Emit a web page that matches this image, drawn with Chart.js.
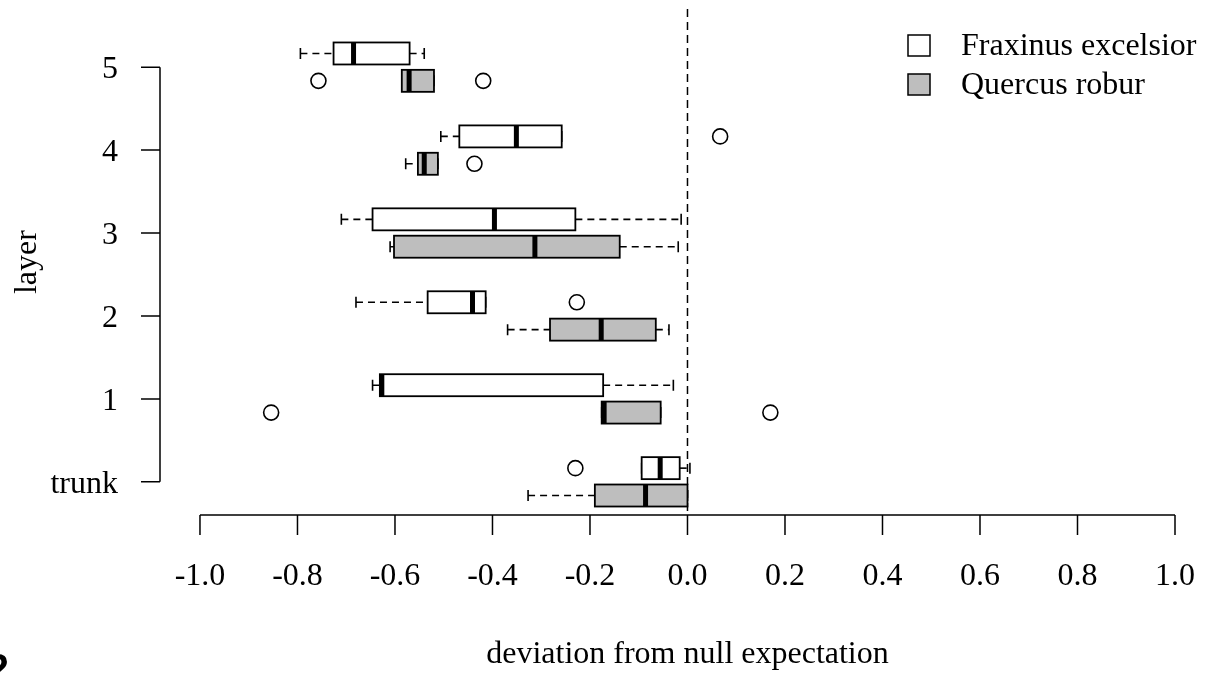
<!DOCTYPE html>
<html>
<head>
<meta charset="utf-8">
<script src="https://cdn.jsdelivr.net/npm/chart.js@4.4.1/dist/chart.umd.min.js"></script>
<style>
  html, body { margin: 0; padding: 0; background: #fff; }
  #wrap { width: 1205px; height: 674px; }
</style>
</head>
<body>
<div id="wrap"><canvas id="myChart" width="1205" height="674"></canvas></div>
<script>
// layer labels, bottom to top (trunk sits at 0)
const layers = ['trunk', '1', '2', '3', '4', '5'];
const xTicks = [-1.0, -0.8, -0.6, -0.4, -0.2, 0.0, 0.2, 0.4, 0.6, 0.8, 1.0];
const seriesNames = ['Fraxinus excelsior', 'Quercus robur'];

// Fraxinus excelsior (white boxes)
const fraxLow = [-0.094, -0.646, -0.680, -0.710, -0.506, -0.794];
const fraxQ1 = [-0.094, -0.631, -0.533, -0.646, -0.468, -0.726];
const fraxMed = [-0.056, -0.627, -0.441, -0.396, -0.351, -0.685];
const fraxQ3 = [-0.016, -0.173, -0.414, -0.230, -0.258, -0.570];
const fraxHigh = [0.005, -0.029, -0.414, -0.013, -0.258, -0.540];
const fraxOut = [[-0.230], [], [-0.227], [], [0.067], []];

// Quercus robur (grey boxes)
const quLow = [-0.327, -0.176, -0.369, -0.610, -0.578, -0.586];
const quQ1 = [-0.190, -0.176, -0.282, -0.602, -0.553, -0.586];
const quMed = [-0.086, -0.171, -0.177, -0.313, -0.540, -0.571];
const quQ3 = [0.000, -0.055, -0.065, -0.139, -0.512, -0.520];
const quHigh = [0.000, -0.055, -0.038, -0.019, -0.512, -0.520];
const quOut = [[], [-0.854, 0.170], [], [], [-0.437], [-0.757, -0.419]];

const FONT = '"Liberation Serif", "Times New Roman", serif';
const SHIFT = 0.165; // each species sits a bit above / below its layer
const FILLS = ['#ffffff', '#bebebe'];

const outlierPoints = (out, sign) => {
  const pts = [];
  out.forEach((vals, i) => {
    vals.forEach((v) => pts.push({ x: v, y: i + sign * SHIFT }));
  });
  return pts;
};

function drawBox(ctx, xs, y, lo, q1, med, q3, hi, fill) {
  const h = 11;
  const a = xs.getPixelForValue(q1);
  const b = xs.getPixelForValue(q3);
  const m = xs.getPixelForValue(med);
  const l = xs.getPixelForValue(lo);
  const r = xs.getPixelForValue(hi);
  ctx.save();
  ctx.strokeStyle = '#000';
  ctx.lineWidth = 1.6;
  ctx.setLineDash([7, 5]);
  ctx.beginPath();
  if (l < a) { ctx.moveTo(l, y); ctx.lineTo(a, y); }
  if (r > b) { ctx.moveTo(b, y); ctx.lineTo(r, y); }
  ctx.stroke();
  ctx.setLineDash([]);
  ctx.beginPath();
  ctx.moveTo(l, y - h / 2); ctx.lineTo(l, y + h / 2);
  ctx.moveTo(r, y - h / 2); ctx.lineTo(r, y + h / 2);
  ctx.stroke();
  ctx.fillStyle = fill;
  ctx.lineWidth = 1.8;
  ctx.fillRect(a, y - h, b - a, 2 * h);
  ctx.strokeRect(a, y - h, b - a, 2 * h);
  ctx.lineWidth = 5;
  ctx.beginPath();
  ctx.moveTo(m, y - h); ctx.lineTo(m, y + h);
  ctx.stroke();
  ctx.restore();
}

const boxPlugin = {
  id: 'boxes',
  beforeDatasetsDraw(chart) {
    const { ctx, chartArea, scales: { x, y } } = chart;
    // null expectation line
    ctx.save();
    ctx.strokeStyle = '#000';
    ctx.lineWidth = 1.5;
    ctx.setLineDash([8, 5]);
    ctx.beginPath();
    ctx.moveTo(x.getPixelForValue(0), chartArea.top);
    ctx.lineTo(x.getPixelForValue(0), chartArea.bottom);
    ctx.stroke();
    ctx.restore();

    layers.forEach((lab, i) => {
      drawBox(ctx, x, y.getPixelForValue(i + SHIFT), fraxLow[i], fraxQ1[i], fraxMed[i], fraxQ3[i], fraxHigh[i], FILLS[0]);
      drawBox(ctx, x, y.getPixelForValue(i - SHIFT), quLow[i], quQ1[i], quMed[i], quQ3[i], quHigh[i], FILLS[1]);
    });
  },
  afterDraw(chart) {
    const { ctx, chartArea, scales: { x, y } } = chart;
    ctx.save();
    ctx.strokeStyle = '#000';
    ctx.fillStyle = '#000';
    ctx.lineWidth = 1.5;
    ctx.font = `32px ${FONT}`;

    // y axis
    const ax = chartArea.left;
    ctx.beginPath();
    ctx.moveTo(ax, y.getPixelForValue(0));
    ctx.lineTo(ax, y.getPixelForValue(layers.length - 1));
    layers.forEach((lab, i) => {
      ctx.moveTo(ax, y.getPixelForValue(i));
      ctx.lineTo(ax - 19, y.getPixelForValue(i));
    });
    ctx.stroke();
    ctx.textAlign = 'right';
    ctx.textBaseline = 'alphabetic';
    layers.forEach((lab, i) => {
      ctx.fillText(lab, ax - 42, y.getPixelForValue(i) + 11);
    });

    // x axis
    const ay = chartArea.bottom;
    ctx.beginPath();
    ctx.moveTo(x.getPixelForValue(xTicks[0]), ay);
    ctx.lineTo(x.getPixelForValue(xTicks[xTicks.length - 1]), ay);
    xTicks.forEach((t) => {
      ctx.moveTo(x.getPixelForValue(t), ay);
      ctx.lineTo(x.getPixelForValue(t), ay + 20);
    });
    ctx.stroke();
    ctx.textAlign = 'center';
    xTicks.forEach((t) => {
      ctx.fillText(t.toFixed(1), x.getPixelForValue(t), ay + 70);
    });

    // axis titles
    ctx.fillText('deviation from null expectation', x.getPixelForValue(0), 663);
    ctx.save();
    ctx.translate(36, (chartArea.top + chartArea.bottom) / 2);
    ctx.rotate(-Math.PI / 2);
    ctx.fillText('layer', 0, 0);
    ctx.restore();

    // legend
    ctx.textAlign = 'left';
    seriesNames.forEach((name, i) => {
      const cy = 45 + i * 39;
      ctx.fillStyle = FILLS[i];
      ctx.fillRect(908, cy - 10, 22, 21);
      ctx.strokeRect(908, cy - 10, 22, 21);
      ctx.fillStyle = '#000';
      ctx.fillText(name, 961, cy + 10);
    });

    // panel number, cut at the edge
    ctx.font = `bold 40px "Liberation Sans", sans-serif`;
    ctx.textAlign = 'right';
    ctx.fillText('2', 9, 682);
    ctx.restore();
  },
};

const ctx = document.getElementById('myChart').getContext('2d');
const myChart = new Chart(ctx, {
  type: 'scatter',
  data: {
    datasets: [
      {
        label: seriesNames[0],
        data: outlierPoints(fraxOut, 1),
        pointRadius: 7.5,
        pointBorderWidth: 1.6,
        borderColor: '#000',
        backgroundColor: 'rgba(0,0,0,0)',
      },
      {
        label: seriesNames[1],
        data: outlierPoints(quOut, -1),
        pointRadius: 7.5,
        pointBorderWidth: 1.6,
        borderColor: '#000',
        backgroundColor: 'rgba(0,0,0,0)',
      },
    ],
  },
  options: {
    responsive: false,
    animation: false,
    layout: {
      padding: { left: 160, right: 30, top: 8, bottom: 159 },
    },
    plugins: {
      legend: { display: false },
      title: { display: false },
      tooltip: { enabled: false },
    },
    scales: {
      x: { type: 'linear', min: -1.082, max: 1.0, display: false },
      y: { type: 'linear', min: -0.4, max: 5.7, display: false },
    },
  },
  plugins: [boxPlugin],
});
</script>
</body>
</html>
